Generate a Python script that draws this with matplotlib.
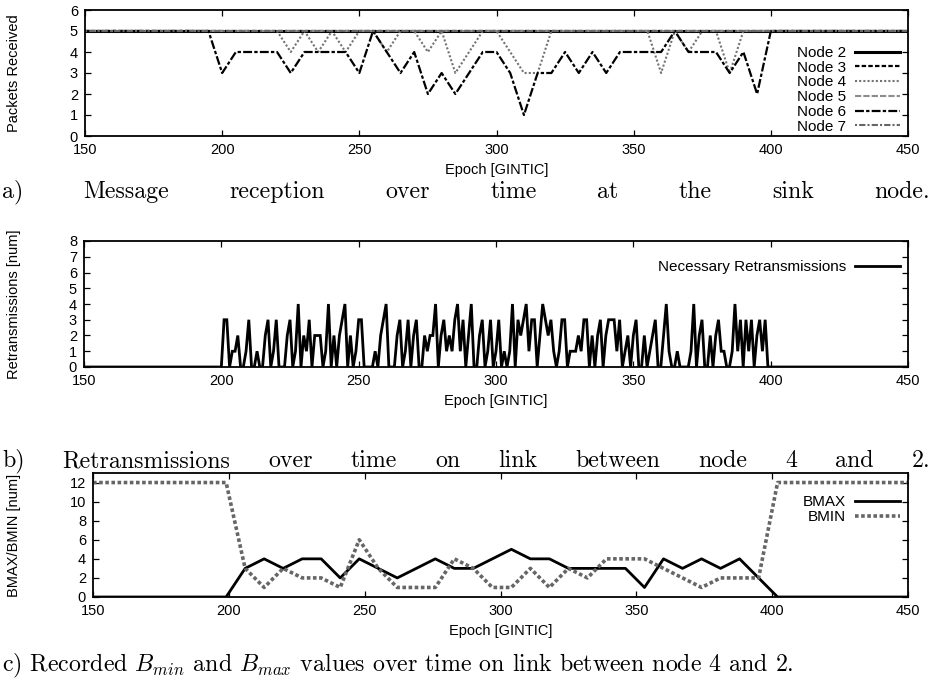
import numpy as np
import matplotlib
matplotlib.use("Agg")
import matplotlib.pyplot as plt

plt.rcParams['font.family'] = ['Liberation Sans', 'DejaVu Sans']
plt.rcParams['mathtext.fontset'] = 'cm'

# a) packets received at the sink, one sample every 5 epochs
epoch_a = np.arange(150, 455, 5)
node2 = [5] * len(epoch_a)
node3 = [5] * len(epoch_a)
node5 = [5] * len(epoch_a)
node7 = [5] * len(epoch_a)
node4 = [5] * 14 + [5, 4, 5, 4, 5, 4, 5, 5, 4, 5,
                    5, 4, 5, 3, 4, 5, 5, 4, 3, 3,
                    5, 5, 5, 5, 5, 5, 5, 5, 3, 5,
                    4, 5, 5, 3, 5] + [5] * 12
node6 = [5] * 10 + [3, 4, 4, 4, 4, 3, 4, 4, 4, 4,
                    3, 5, 4, 3, 4, 2, 3, 2, 3, 4,
                    4, 3, 1, 3, 3, 4, 3, 4, 3, 4,
                    4, 4, 4, 5, 4, 4, 4, 3, 4, 2] + [5] * 11

# b) retransmissions on link 4 -> 2, one sample per epoch
epoch_b = np.arange(150, 451)
retrans_active = [
    0, 3, 3, 0, 1, 1, 2, 0, 0, 1, 3, 0, 0, 1, 0, 0, 2, 3, 0, 1,
    3, 0, 0, 0, 2, 3, 0, 1, 4, 0, 2, 1, 3, 0, 2, 2, 2, 0, 1, 4,
    0, 2, 0, 2, 3, 4, 0, 2, 0, 1, 3, 3, 0, 0, 0, 0, 1, 0, 2, 3,
    4, 0, 0, 0, 2, 3, 0, 1, 3, 0, 2, 3, 0, 0, 2, 1, 2, 2, 4, 0,
    2, 3, 1, 2, 1, 3, 4, 1, 3, 0, 2, 4, 0, 0, 2, 3, 0, 1, 3, 0,
    1, 3, 0, 1, 0, 1, 4, 0, 3, 2, 3, 4, 1, 3, 3, 0, 2, 4, 3, 2,
    3, 1, 0, 1, 3, 3, 0, 1, 1, 1, 2, 1, 3, 3, 0, 2, 0, 2, 3, 0,
    2, 3, 3, 3, 1, 3, 0, 1, 2, 0, 2, 3, 0, 0, 2, 0, 1, 2, 3, 0,
    0, 2, 4, 1, 0, 0, 1, 0, 0, 0, 0, 1, 4, 0, 2, 3, 0, 0, 2, 0,
    2, 3, 1, 1, 0, 0, 1, 4, 1, 3, 0, 3, 1, 3, 0, 2, 3, 1, 3, 0,
    0]
retrans = [0] * 50 + retrans_active + [0] * 50

# c) recorded BMAX / BMIN, one sample every 7 epochs
epoch_c = np.arange(150, 452, 7)
bmax = [0] * 8 + [3, 4, 3, 4, 4, 2, 4, 3, 2, 3, 4, 3, 3, 4, 5, 4, 4, 3, 3, 3,
                  3, 1, 4, 3, 4, 3, 4, 2, 0] + [0] * 7
bmin = [12] * 8 + [3, 1, 3, 2, 2, 1, 6, 3, 1, 1, 1, 4, 3, 1, 1, 3, 1, 3, 2, 4,
                   4, 4, 3, 2, 1, 2, 2, 2, 12] + [12] * 7

W, H = 933, 687
fig = plt.figure(figsize=(W / 100, H / 100), dpi=100)


def make_axes(left, right, top, bottom):
    return fig.add_axes([left / W, 1 - bottom / H, (right - left) / W, (bottom - top) / H])


def style(ax, ylabel, left, height):
    ax.set_xlim(150, 450)
    ax.set_xticks(range(150, 451, 50))
    ax.tick_params(direction='in', top=True, right=True, length=4.5, width=0.9,
                   labelsize=10.5, pad=5)
    for s in ax.spines.values():
        s.set_linewidth(1.3)
    ax.set_xlabel("Epoch [GINTIC]", fontsize=10.5)
    ax.xaxis.set_label_coords(0.5, -27 / height)
    ax.set_ylabel(ylabel, fontsize=10.5)
    ax.yaxis.set_label_coords((21 - left) / (908 - left), 0.5)


leg_kw = dict(loc='upper right', frameon=False, markerfirst=False, fontsize=11,
              handlelength=2.9, labelspacing=0.05, borderpad=0.2, handletextpad=0.6)

# ---- a)
ax1 = make_axes(85, 908, 10, 136)
ax1.plot(epoch_a, node2, color='black', lw=2.2, label="Node 2")
ax1.plot(epoch_a, node3, color='black', lw=1.6, dashes=(2, 1), label="Node 3")
ax1.plot(epoch_a, node4, color='0.45', lw=1.5, dashes=(1, 1), label="Node 4")
ax1.plot(epoch_a, node5, color='0.55', lw=1.5, dashes=(3, 1), label="Node 5")
ax1.plot(epoch_a, node6, color='black', lw=1.6, dashes=(4, 1, 1.5, 1), label="Node 6")
ax1.plot(epoch_a, node7, color='0.4', lw=1.5, dashes=(1, 1, 3, 1), label="Node 7")
ax1.set_ylim(0, 6)
ax1.set_yticks(range(0, 7))
style(ax1, "Packets Received", 85, 126)
ax1.legend(bbox_to_anchor=(1.003, 0.8), **leg_kw)

# ---- b)
ax2 = make_axes(84, 908, 241, 367)
ax2.plot(epoch_b, retrans, color='black', lw=2, solid_joinstyle='miter',
         label="Necessary Retransmissions")
ax2.set_ylim(0, 8)
ax2.set_yticks(range(0, 9))
style(ax2, "Retransmissions [num]", 84, 126)
ax2.legend(bbox_to_anchor=(1.003, 0.935), **leg_kw)

# ---- c)
ax3 = make_axes(93, 908, 473, 597)
ax3.plot(epoch_c, bmax, color='black', lw=2, label="BMAX")
ax3.plot(epoch_c, bmin, color='0.4', lw=2.6, dashes=(1, 0.7), label="BMIN")
ax3.set_ylim(0, 13)
ax3.set_yticks(range(0, 13, 2))
style(ax3, "BMAX/BMIN [num]", 93, 124)
ax3.legend(bbox_to_anchor=(1.003, 0.905), **leg_kw)

# ---- captions (justified like the LaTeX source)
cap_kw = dict(fontsize=17.2, family='cmr10', va='center')


def justify(words, y):
    texts = [fig.text(0, y, w, **cap_kw) for w in words]
    fig.canvas.draw()
    r = fig.canvas.get_renderer()
    widths = [t.get_window_extent(r).width / W for t in texts]
    x0, x1 = 2 / W, 930 / W
    gap = (x1 - x0 - sum(widths)) / (len(words) - 1)
    x = x0
    for t, w in zip(texts, widths):
        t.set_x(x)
        x += w + gap


justify("a) Message reception over time at the sink node.".split(), 1 - 192 / H)
justify("b) Retransmissions over time on link between node 4 and 2.".split(), 1 - 461 / H)
fig.text(2 / W, 1 - 666 / H,
         r"c) Recorded $B_{min}$ and $B_{max}$ values over time on link between node 4 and 2.",
         **cap_kw)

fig.savefig("out.png", dpi=100)
